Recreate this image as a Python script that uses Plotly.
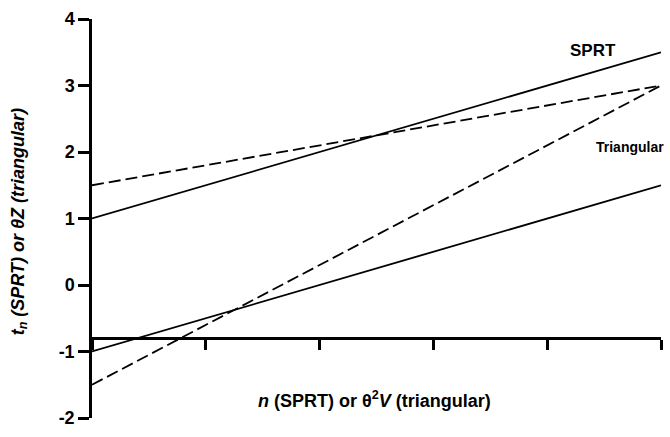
import plotly.graph_objects as go

# Data
x_end = [0, 5]
sprt_upper = [1.0, 3.5]
sprt_lower = [-1.0, 1.5]
tri_upper = [1.5, 3.0]
tri_lower = [-1.5, 3.0]
y_ticks = [-2, -1, 0, 1, 2, 3, 4]
x_ticks = [0, 1, 2, 3, 4, 5]

fig = go.Figure()
solid = dict(color="black", width=1.8)
dashed = dict(color="black", width=1.8, dash="12px,5px")
fig.add_trace(go.Scatter(x=x_end, y=sprt_upper, mode="lines", line=solid))
fig.add_trace(go.Scatter(x=x_end, y=sprt_lower, mode="lines", line=solid))
fig.add_trace(go.Scatter(x=x_end, y=tri_upper, mode="lines", line=dashed))
fig.add_trace(go.Scatter(x=x_end, y=tri_lower, mode="lines", line=dashed))

font = "Liberation Sans, Arial, sans-serif"
fig.update_layout(
    width=670, height=437,
    margin=dict(l=92, r=9, t=10, b=12),
    plot_bgcolor="white", paper_bgcolor="white",
    showlegend=False,
    font=dict(family=font, color="black"),
    xaxis=dict(range=[0, 5], tickvals=x_ticks, showticklabels=False,
               showline=True, linecolor="black", linewidth=2.5,
               ticks="outside", ticklen=10, tickwidth=2.5, tickcolor="black",
               showgrid=False, zeroline=False, anchor="free", position=0.2),
    yaxis=dict(range=[-2, 4], tickvals=y_ticks,
               ticktext=[str(v) for v in y_ticks],
               showline=True, linecolor="black", linewidth=2.5,
               ticks="outside", ticklen=11, tickwidth=2.5, tickcolor="black",
               showgrid=False, zeroline=False,
               tickfont=dict(family=font, size=18, color="black", weight="bold")),
)

fig.add_annotation(x=4.40, y=3.53, xref="x", yref="y", text="<b>SPRT</b>",
                   showarrow=False, font=dict(size=17, family=font))
fig.add_annotation(x=4.73, y=2.08, xref="x", yref="y", text="<b>Triangular</b>",
                   showarrow=False, font=dict(size=14, family=font))
fig.add_annotation(x=2.48, y=-1.72, xref="x", yref="y",
                   text="<b><i>n</i> (SPRT) or θ<sup>2</sup><i>V</i> (triangular)</b>",
                   showarrow=False, font=dict(size=18, family=font))
fig.add_annotation(x=0, y=0.95, xref="paper", yref="y", xshift=-86,
                   text="<b><i>t<sub>n</sub> (SPRT) or θZ (triangular)</i></b>",
                   textangle=-90, showarrow=False, font=dict(size=18, family=font))

fig.write_html("out.html")
